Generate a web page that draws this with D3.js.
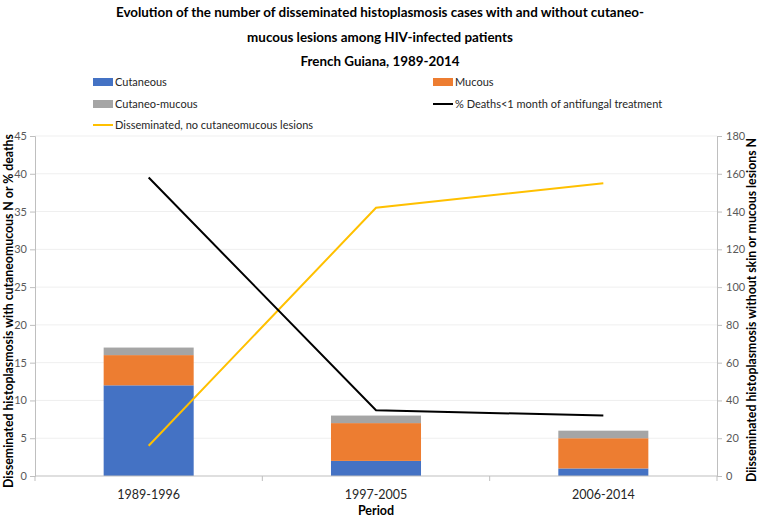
<!DOCTYPE html>
<html>
<head>
<meta charset="utf-8">
<script src="https://cdn.jsdelivr.net/npm/d3@7"></script>
<style>
  body { margin: 0; background: #fff; }
  svg { font-family: Lato, "Open Sans", sans-serif; }
</style>
</head>
<body>
<svg id="chart"></svg>
<script>
// categories and values
var periods = ["1989-1996", "1997-2005", "2006-2014"];
var cutaneous = [12, 2, 1];
var mucous = [4, 5, 4];
var cutaneoMucous = [1, 1, 1];
var pctDeaths = [39.5, 8.7, 8.0];
var noLesions = [16, 142, 155];   // right axis
var leftTicks = [0, 5, 10, 15, 20, 25, 30, 35, 40, 45];
var rightTicks = [0, 20, 40, 60, 80, 100, 120, 140, 160, 180];

var svgWidth = 760, svgHeight = 519;

var margin = { top: 136, bottom: 43, left: 35, right: 43 };
var width = svgWidth - margin.left - margin.right;
var height = svgHeight - margin.top - margin.bottom;

var svg = d3.select("#chart")
    .attr("width", svgWidth)
    .attr("height", svgHeight);

var xScale = d3.scaleBand()
    .domain(periods)
    .range([0, width])
    .padding(0);

var yLeft = d3.scaleLinear().domain([0, 45]).range([height, 0]);
var yRight = d3.scaleLinear().domain([0, 180]).range([height, 0]);

var g = svg.append("g")
    .attr("transform", "translate(" + margin.left + "," + margin.top + ")");

/*
    GRIDLINES
*/
g.append("g")
    .selectAll("line")
    .data(leftTicks.slice(1))
    .join("line")
    .attr("x1", 0).attr("x2", width)
    .attr("y1", function(d) { return yLeft(d); })
    .attr("y2", function(d) { return yLeft(d); })
    .attr("stroke", "#efefef")
    .attr("stroke-width", 1);

/*
    STACKED BARS
*/
var stackData = periods.map(function(p, i) {
    return { period: p, cutaneous: cutaneous[i], mucous: mucous[i], cm: cutaneoMucous[i] };
});
var keys = ["cutaneous", "mucous", "cm"];
var colors = { cutaneous: "#4472C4", mucous: "#ED7D31", cm: "#A5A5A5" };
var series = d3.stack().keys(keys)(stackData);
var barW = xScale.bandwidth() * 0.396;

g.append("g")
    .selectAll("g")
    .data(series)
    .join("g")
    .attr("fill", function(d) { return colors[d.key]; })
    .selectAll("rect")
    .data(function(d) { return d; })
    .join("rect")
    .attr("x", function(d) { return xScale(d.data.period) + xScale.bandwidth() / 2 - barW / 2; })
    .attr("width", barW)
    .attr("y", function(d) { return yLeft(d[1]); })
    .attr("height", function(d) { return yLeft(d[0]) - yLeft(d[1]); });

/*
    AXES
*/
var axisColor = "#bfbfbf";
var tickText = "#595959";

var xAxis = g.append("g")
    .attr("transform", "translate(0," + height + ")");
xAxis.append("line")
    .attr("x1", 0).attr("x2", width)
    .attr("stroke", axisColor);
xAxis.selectAll(".sep")
    .data(d3.range(periods.length + 1))
    .join("line")
    .attr("x1", function(i) { return i * xScale.step(); })
    .attr("x2", function(i) { return i * xScale.step(); })
    .attr("y1", 0).attr("y2", 5)
    .attr("stroke", axisColor);
xAxis.selectAll(".lab")
    .data(periods)
    .join("text")
    .attr("x", function(d) { return xScale(d) + xScale.bandwidth() / 2; })
    .attr("y", 23)
    .attr("text-anchor", "middle")
    .attr("font-size", 12.5)
    .attr("fill", "#262626")
    .text(function(d) { return d; });

var yAxisL = d3.axisLeft(yLeft).tickValues(leftTicks).tickSize(5).tickPadding(3);
var gl = g.append("g").call(yAxisL);
gl.select(".domain").attr("stroke", axisColor);
gl.selectAll(".tick line").attr("stroke", axisColor);
gl.selectAll(".tick text").attr("fill", tickText).attr("font-size", 11)
    .attr("font-family", "Lato, sans-serif");

var yAxisR = d3.axisRight(yRight).tickValues(rightTicks).tickSize(5).tickPadding(4);
var gr = g.append("g").attr("transform", "translate(" + width + ",0)").call(yAxisR);
gr.select(".domain").attr("stroke", axisColor);
gr.selectAll(".tick line").attr("stroke", axisColor);
gr.selectAll(".tick text").attr("fill", tickText).attr("font-size", 11)
    .attr("font-family", "Lato, sans-serif");

/*
    LINES
*/
var cx = function(i) { return xScale(periods[i]) + xScale.bandwidth() / 2; };

var deathLine = d3.line()
    .x(function(d, i) { return cx(i); })
    .y(function(d) { return yLeft(d); });
var noLesLine = d3.line()
    .x(function(d, i) { return cx(i); })
    .y(function(d) { return yRight(d); });

g.append("path")
    .datum(noLesions)
    .attr("fill", "none")
    .attr("stroke", "#FFC000")
    .attr("stroke-width", 2)
    .attr("d", noLesLine);

g.append("path")
    .datum(pctDeaths)
    .attr("fill", "none")
    .attr("stroke", "#000")
    .attr("stroke-width", 2)
    .attr("d", deathLine);

/*
    TITLES
*/
var titleLines = [
    "Evolution of the number of disseminated histoplasmosis cases with and without cutaneo-",
    "mucous lesions among HIV-infected patients",
    "French Guiana, 1989-2014"
];
svg.append("g").selectAll("text")
    .data(titleLines)
    .join("text")
    .attr("x", 380)
    .attr("y", function(d, i) { return 17 + i * 24.5; })
    .attr("text-anchor", "middle")
    .attr("font-size", 13.4)
    .attr("font-weight", "bold")
    .attr("fill", "#000")
    .text(function(d) { return d; });

svg.append("text")
    .attr("x", margin.left + width / 2)
    .attr("y", 515)
    .attr("text-anchor", "middle")
    .attr("font-size", 12.5)
    .attr("font-weight", "bold")
    .text("Period");

svg.append("text")
    .attr("transform", "translate(13,311) rotate(-90)")
    .attr("text-anchor", "middle")
    .attr("font-size", 12.3)
    .attr("font-weight", "bold")
    .text("Disseminated histoplasmosis with cutaneomucous  N or % deaths");

svg.append("text")
    .attr("transform", "translate(752,310) rotate(-90)")
    .attr("text-anchor", "middle")
    .attr("dy", "0.35em")
    .attr("font-size", 12.3)
    .attr("font-weight", "bold")
    .text("Diisseminated histoplasmosis without skin or mucous lesions N");

/*
    LEGEND
*/
var legendItems = [
    { label: "Cutaneous", type: "rect", color: "#4472C4", x: 93, y: 82 },
    { label: "Mucous", type: "rect", color: "#ED7D31", x: 433, y: 82 },
    { label: "Cutaneo-mucous", type: "rect", color: "#A5A5A5", x: 93, y: 104 },
    { label: "% Deaths<1 month of antifungal treatment", type: "line", color: "#000", x: 433, y: 104 },
    { label: "Disseminated, no cutaneomucous lesions", type: "line", color: "#FFC000", x: 93, y: 125 }
];
var lg = svg.append("g").selectAll("g")
    .data(legendItems)
    .join("g")
    .attr("transform", function(d) { return "translate(" + d.x + "," + d.y + ")"; });
lg.filter(function(d) { return d.type === "rect"; })
    .append("rect")
    .attr("x", 0).attr("y", -4).attr("width", 20).attr("height", 8)
    .attr("fill", function(d) { return d.color; });
lg.filter(function(d) { return d.type === "line"; })
    .append("line")
    .attr("x1", 0).attr("x2", 20).attr("y1", 0).attr("y2", 0)
    .attr("stroke", function(d) { return d.color; })
    .attr("stroke-width", 2);
lg.append("text")
    .attr("x", 22).attr("y", 4)
    .attr("font-size", 11)
    .attr("fill", "#262626")
    .text(function(d) { return d.label; });
</script>
</body>
</html>
